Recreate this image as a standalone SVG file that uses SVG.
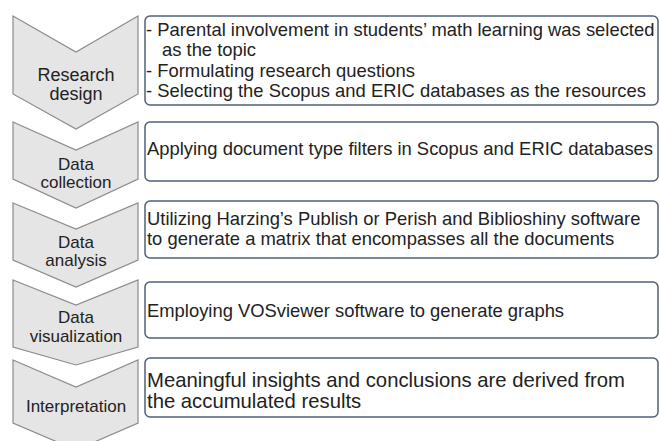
<svg xmlns="http://www.w3.org/2000/svg" width="660" height="441" viewBox="0 0 660 441">
<style>
.chev{fill:#e5e5e5;stroke:#8c8c8c;stroke-width:1.2}
.box{fill:#ffffff;stroke:#4f6178;stroke-width:1.5}
.lbl{font-family:"Liberation Sans",Arial,sans-serif;font-size:17px;fill:#222;text-anchor:middle}
.txt{font-family:"Liberation Sans",Arial,sans-serif;font-size:18.4px;fill:#222}
</style>
<rect width="660" height="441" fill="#ffffff"/>
<g id="step1">
<polygon class="chev" points="13,16 76,52 138,16 138,94 76,129 13,94"/>
<text class="lbl" x="76" y="81" style="font-size:18px">Research</text>
<text class="lbl" x="76" y="100" style="font-size:18px">design</text>
</g>
<g id="box1">
<rect class="box" x="145" y="16" width="513" height="89" rx="5"/>
<text class="txt" x="146" y="36">- Parental involvement in students’ math learning was selected</text>
<text class="txt" x="162" y="56">as the topic</text>
<text class="txt" x="146" y="77">- Formulating research questions</text>
<text class="txt" x="146" y="97">- Selecting the Scopus and ERIC databases as the resources</text>
</g>
<g id="step2">
<polygon class="chev" points="13,122 76,150 138,122 138,179 76,208 13,179"/>
<text class="lbl" x="76" y="170">Data</text>
<text class="lbl" x="76" y="188">collection</text>
</g>
<g id="box2">
<rect class="box" x="145" y="122" width="513" height="59" rx="5"/>
<text class="txt" x="147" y="155">Applying document type filters in Scopus and ERIC databases</text>
</g>
<g id="step3">
<polygon class="chev" points="13,203 76,229 138,203 138,260 76,287 13,260"/>
<text class="lbl" x="76" y="248">Data</text>
<text class="lbl" x="76" y="266">analysis</text>
</g>
<g id="box3">
<rect class="box" x="145" y="201" width="513" height="57" rx="5"/>
<text class="txt" x="147" y="225">Utilizing Harzing’s Publish or Perish and Biblioshiny software</text>
<text class="txt" x="147" y="245">to generate a matrix that encompasses all the documents</text>
</g>
<g id="step4">
<polygon class="chev" points="13,280 76,305 138,280 138,347 76,365 13,347"/>
<text class="lbl" x="76" y="323">Data</text>
<text class="lbl" x="76" y="342">visualization</text>
</g>
<g id="box4">
<rect class="box" x="145" y="282" width="513" height="56" rx="5"/>
<text class="txt" x="147" y="317">Employing VOSviewer software to generate graphs</text>
</g>
<g id="step5">
<polygon class="chev" points="13,360 76,387 138,360 138,423 76,450 13,423"/>
<text class="lbl" x="76" y="412">Interpretation</text>
</g>
<g id="box5">
<rect class="box" x="145" y="358" width="513" height="59" rx="5"/>
<text class="txt" x="147" y="387" style="font-size:20.3px">Meaningful insights and conclusions are derived from</text>
<text class="txt" x="147" y="408" style="font-size:20.3px">the accumulated results</text>
</g>
<g id="connectors"/>
</svg>
